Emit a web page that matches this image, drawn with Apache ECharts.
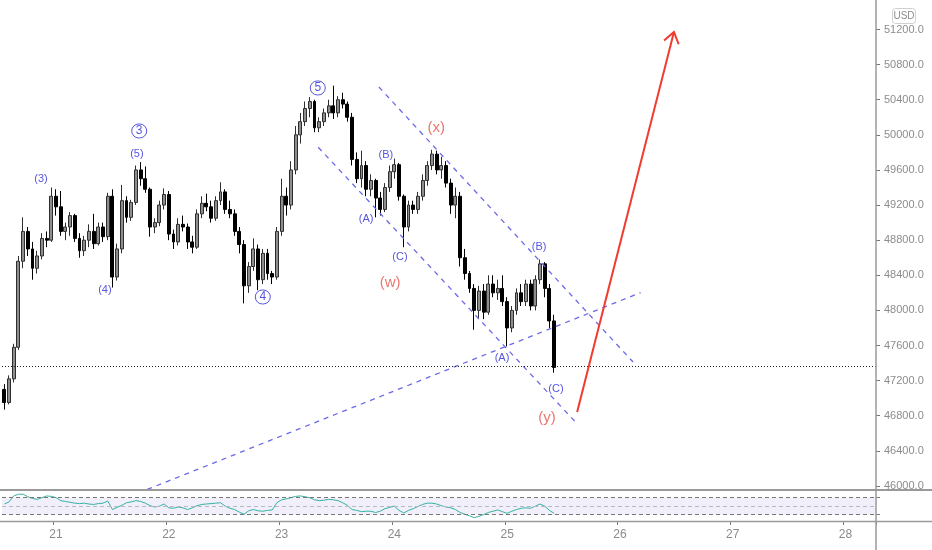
<!DOCTYPE html>
<html><head><meta charset="utf-8">
<script src="https://cdn.jsdelivr.net/npm/echarts@6/dist/echarts.min.js"></script>
<style>html,body{margin:0;padding:0;background:#fff}#c{width:932px;height:550px}</style>
</head><body><div id="c"></div>
<script>
// ---------- data ----------
const hourCount = 186;          // hourly slots on the time axis (20th 13:00 onward)
const firstDayIndex = 11;       // slot of day 21, 00:00
const dayTickLabels = ['21','22','23','24','25','26','27','28'];
const priceTicks = [46000,46400,46800,47200,47600,48000,48400,48800,49200,49600,50000,50400,50800,51200];
const priceMin = 45954, priceMax = 51536;
const opens = [47100,46950,47220,47580,48560,48900,48700,48480,48620,48820,48800,49300,49180,48900,48950,49080,48820,48680,48800,48900,48760,48950,48840,49300,48380,48700,49250,49060,49230,49600,49500,49380,48950,49000,49200,49320,48870,48780,48980,48950,48780,48720,49100,49220,49180,49050,49250,49350,49150,49100,48900,48750,48280,48500,48700,48350,48650,48420,48380,48900,49300,49200,49600,50000,50150,50300,50380,50080,50150,50250,50330,50250,50400,50350,50200,49720,49500,49650,49380,49480,49280,49150,49400,49580,49660,49300,48950,49200,49150,49300,49480,49650,49780,49600,49650,49450,49200,49300,48600,48420,48250,48000,48220,47980,48300,48200,48250,48100,47800,48000,48200,48100,48300,48050,48350,48530,48250,47880];
const highs = [47160,47260,47620,48620,49060,48950,48780,48680,48880,48900,49400,49380,49360,49000,49120,49100,48880,48850,48980,49100,49000,49000,49340,49380,48760,49430,49300,49260,49650,49690,49640,49400,49050,49250,49390,49360,48920,49050,49080,48990,48850,49150,49300,49330,49250,49300,49460,49380,49250,49150,48950,48800,48550,48820,48750,48700,48700,48450,48950,49500,49400,49700,50100,50250,50380,50430,50400,50200,50300,50400,50560,50440,50480,50380,50250,49800,49820,49700,49550,49500,49350,49450,49650,49730,49680,49320,49250,49250,49350,49550,49700,49830,49820,49750,49700,49500,49400,49350,48700,48450,48300,48280,48300,48400,48400,48350,48400,48150,48050,48250,48300,48350,48350,48400,48580,48550,48300,47950];
const lows = [46870,46930,47180,47550,48480,48620,48350,48420,48580,48720,48780,49080,48850,48800,48850,48780,48600,48620,48720,48700,48740,48780,48800,48260,48340,48650,49000,49020,49200,49420,49340,48840,48880,48960,49150,48800,48700,48740,48900,48700,48650,48700,49050,49130,49000,49020,49200,49100,49050,48850,48650,48080,48200,48450,48230,48300,48350,48300,48350,48850,49080,49150,49550,49900,50100,50200,50030,50030,50100,50200,50180,50200,50300,50150,49650,49450,49400,49300,49300,49060,49080,49120,49350,49500,49250,48720,48900,49100,49100,49250,49420,49600,49550,49500,49400,49100,49050,48500,48350,48200,47780,47900,47900,47950,48150,48120,48050,47590,47750,47950,48050,48050,48000,48000,48300,48150,47800,47290];
const closes = [46950,47220,47580,48560,48900,48700,48480,48620,48820,48800,49300,49180,48900,48950,49080,48820,48680,48800,48900,48760,48950,48840,49300,48380,48700,49250,49060,49230,49600,49500,49380,48950,49000,49200,49320,48870,48780,48980,48950,48780,48720,49100,49220,49180,49050,49250,49350,49150,49100,48900,48750,48280,48500,48700,48350,48650,48420,48380,48900,49300,49200,49600,50000,50150,50300,50380,50080,50150,50250,50330,50250,50400,50350,50200,49720,49500,49650,49380,49480,49280,49150,49400,49580,49660,49300,48950,49200,49150,49300,49480,49650,49780,49600,49650,49450,49200,49300,48600,48420,48250,48000,48220,47980,48300,48200,48250,48100,47800,48000,48200,48100,48300,48050,48350,48530,48250,47880,47350];
const rsiValues = [55,60,74,78,78,72,68,66,70,74,73,70,63,61,59,57,56,57,55,54,56,57,62,42,47,52,58,60,63,61,57,51,48,50,55,46,45,48,46,42,46,51,54,55,56,57,58,50,45,42,36,31,39,42,39,38,40,41,58,65,67,70,73,74,72,70,65,63,64,66,65,63,58,52,42,40,37,38,38,35,38,44,47,50,40,34,40,44,49,54,57,57,55,51,48,46,42,35,31,27,23,26,30,35,38,41,37,33,38,42,45,46,45,50,55,50,40,33];
const lastPrice = 47360;
const rsiLevels = [70, 50, 30];
// trend lines: [slot, price]
const channelUpper = [[79.7, 50545], [133.8, 47412]];
const channelLower = [[66.8, 49858], [121.8, 46714]];
const risingLine = [[30.4, 45960], [135.4, 48202]];
const arrowShaft = [[121.9, 46843], [142.5, 51172]];
const arrowHead = [[140.4, 51075], [142.5, 51172], [143.5, 51032]];
// wave labels: [slot, price, text]
const blueLabels = [[7.8,49497,'(3)'],[28.2,49782,'(5)'],[21.4,48233,'(4)'],[77.0,49041,'(A)'],[81.2,49770,'(B)'],[84.2,48608,'(C)'],[105.9,47458,'(A)'],[113.8,48722,'(B)'],[117.4,47105,'(C)']];
const circledLabels = [[28.7,50044,'3'],[55.0,48153,'4'],[66.7,50534,'5']];
const redLabels = [[82.1,48312,'(w)'],[91.9,50078,'(x)'],[115.5,46775,'(y)']];

// ---------- build ----------
const cats = [];
for (let i = 0; i < hourCount; i++) cats.push(String(i));
const isDayStart = (i) => i >= firstDayIndex && (i - firstDayIndex) % 24 === 0;
const candleData = opens.map((o, i) => [o, closes[i], lows[i], highs[i]]);

const BLUE = '#2a2ad6', RED = '#e5554c', TL = '#6a6ae8';
const FONT = 'Liberation Sans';

const chart = echarts.init(document.getElementById('c'), null, {renderer: 'canvas'});
chart.setOption({
  animation: false,
  backgroundColor: '#ffffff',
  grid: [
    {left: 2, right: 56, top: 0, height: 490},
    {left: 2, right: 56, top: 490, height: 31}
  ],
  xAxis: [
    {type: 'category', gridIndex: 0, data: cats, show: false, boundaryGap: true},
    {type: 'category', gridIndex: 1, data: cats, boundaryGap: true,
     axisLine: {show: false, onZero: false},
     axisTick: {show: true, length: 4, interval: (i) => isDayStart(i), lineStyle: {color: '#777'}},
     axisLabel: {interval: (i) => isDayStart(i), margin: 8, color: '#8a8a8a', fontSize: 12, fontFamily: FONT,
       formatter: (v, i) => dayTickLabels[(i - firstDayIndex) / 24] || ''},
     splitLine: {show: false}},
    {type: 'value', gridIndex: 0, min: -0.5, max: hourCount - 0.5, show: false}
  ],
  yAxis: [
    {type: 'value', gridIndex: 0, position: 'right', min: priceMin, max: priceMax,
     axisLine: {show: false, onZero: false}, splitLine: {show: false},
     axisTick: {show: true, length: 4, customValues: priceTicks, lineStyle: {color: '#777'}},
     axisLabel: {show: true, margin: 8, color: '#8c8c8c', fontSize: 11, fontFamily: FONT,
       customValues: priceTicks, formatter: (v) => Number(v).toFixed(1)}},
    {type: 'value', gridIndex: 1, position: 'right', min: 15, max: 88,
     axisLine: {show: false, onZero: false}, splitLine: {show: false}, axisLabel: {show: false},
     axisTick: {show: true, length: 4, customValues: [30, 70], lineStyle: {color: '#777'}}}
  ],
  series: [
    {type: 'candlestick', xAxisIndex: 0, yAxisIndex: 0, data: candleData, barWidth: 3.4, z: 2,
     itemStyle: {color: '#8e8e8e', borderColor: '#2e2e2e', color0: '#000000', borderColor0: '#000000', borderWidth: 1},
     markLine: {silent: true, symbol: 'none', label: {show: false},
       lineStyle: {color: '#222', type: [1, 2], width: 1},
       data: [{yAxis: lastPrice}]}},
    {type: 'line', xAxisIndex: 1, yAxisIndex: 1, data: rsiValues, symbol: 'none', z: 3,
     lineStyle: {color: '#35b3a5', width: 1},
     markArea: {silent: true, itemStyle: {color: 'rgba(120,100,200,0.10)'}, data: [[{yAxis: rsiLevels[2]}, {yAxis: rsiLevels[0]}]]},
     markLine: {silent: true, symbol: 'none', label: {show: false},
       data: [
         {yAxis: rsiLevels[0], lineStyle: {color: '#777', type: [4, 3], width: 1}},
         {yAxis: rsiLevels[1], lineStyle: {color: '#b8b8c4', type: [4, 3], width: 1}},
         {yAxis: rsiLevels[2], lineStyle: {color: '#777', type: [4, 3], width: 1}}
       ]}},
    {type: 'line', xAxisIndex: 2, yAxisIndex: 0, data: channelUpper, symbol: 'none', z: 4,
     lineStyle: {color: TL, width: 1.3, type: [5, 5]}},
    {type: 'line', xAxisIndex: 2, yAxisIndex: 0, data: channelLower, symbol: 'none', z: 4,
     lineStyle: {color: TL, width: 1.3, type: [5, 5]}},
    {type: 'line', xAxisIndex: 2, yAxisIndex: 0, data: risingLine, symbol: 'none', z: 4,
     lineStyle: {color: TL, width: 1.3, type: [5, 5]}},
    {type: 'line', xAxisIndex: 2, yAxisIndex: 0, data: arrowShaft, symbol: 'none', z: 4,
     lineStyle: {color: '#ef3b30', width: 2}},
    {type: 'line', xAxisIndex: 2, yAxisIndex: 0, data: arrowHead, symbol: 'none', z: 4,
     lineStyle: {color: '#ef3b30', width: 2, join: 'miter'}},
    {type: 'scatter', xAxisIndex: 2, yAxisIndex: 0, data: blueLabels, symbolSize: 1, z: 6,
     itemStyle: {color: 'rgba(0,0,0,0)'},
     label: {show: true, position: 'inside', formatter: (p) => p.data[2], color: BLUE, fontSize: 11, fontFamily: FONT}},
    {type: 'scatter', xAxisIndex: 2, yAxisIndex: 0, data: circledLabels, symbolSize: 1, z: 6,
     itemStyle: {color: 'rgba(0,0,0,0)'},
     label: {show: true, position: 'inside', formatter: (p) => p.data[2], color: BLUE, fontSize: 12, fontFamily: FONT,
       width: 13, height: 13, lineHeight: 14, align: 'center', verticalAlign: 'middle',
       borderColor: BLUE, borderWidth: 1, borderRadius: 8, padding: [1, 1, 0, 1]}},
    {type: 'scatter', xAxisIndex: 2, yAxisIndex: 0, data: redLabels, symbolSize: 1, z: 6,
     itemStyle: {color: 'rgba(0,0,0,0)'},
     label: {show: true, position: 'inside', formatter: (p) => p.data[2], color: RED, fontSize: 15, fontFamily: FONT}}
  ],
  graphic: [
    {type: 'line', shape: {x1: 876, y1: 0, x2: 876, y2: 550}, style: {stroke: '#9a9a9a', lineWidth: 1.5}, z: 10},
    {type: 'line', shape: {x1: 0, y1: 490, x2: 932, y2: 490}, style: {stroke: '#9a9a9a', lineWidth: 2}, z: 10},
    {type: 'line', shape: {x1: 0, y1: 521.5, x2: 932, y2: 521.5}, style: {stroke: '#9a9a9a', lineWidth: 1.5}, z: 10},
    {type: 'rect', shape: {x: 892.5, y: 8.5, width: 23, height: 15, r: 3}, style: {fill: '#fff', stroke: '#d0d0d0', lineWidth: 1}, z: 11},
    {type: 'text', x: 904, y: 16, style: {text: 'USD', fill: '#8c8c8c', font: '10px Liberation Sans', align: 'center', verticalAlign: 'middle'}, z: 12}
  ]
});
</script></body></html>
